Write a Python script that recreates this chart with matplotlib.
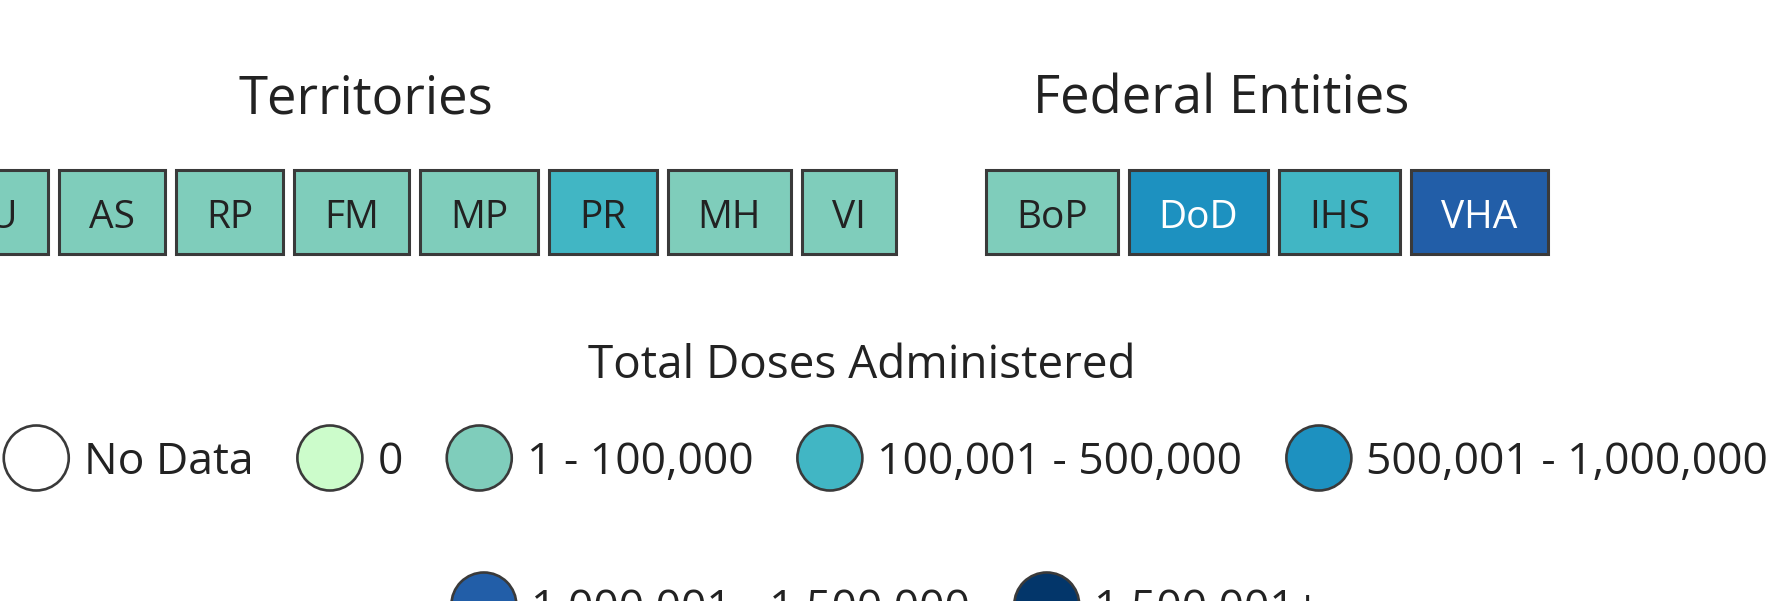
import matplotlib
matplotlib.use('Agg')
import matplotlib.pyplot as plt
from matplotlib.patches import Rectangle, Circle

plt.rcParams['font.family'] = ['Open Sans', 'DejaVu Sans']

# legend bins (total doses administered)
bin_labels = ['No Data', '0', '1 - 100,000', '100,001 - 500,000',
              '500,001 - 1,000,000', '1,000,001 - 1,500,000', '1,500,001+']
bin_colors = ['#ffffff', '#ccfccb', '#7fcdbb', '#41b6c4',
              '#1d91c0', '#225ea8', '#03366a']

# jurisdictions and the bin each one falls in
territories = ['GU', 'AS', 'RP', 'FM', 'MP', 'PR', 'MH', 'VI']
territory_bins = [2, 2, 2, 2, 2, 3, 2, 2]

federal = ['BoP', 'DoD', 'IHS', 'VHA']
federal_bins = [2, 4, 3, 5]

legend_rows = [[0, 1, 2, 3, 4], [5, 6]]

W, H = 1769, 601
TXT = '#222222'
EDGE = '#3a3a3a'

fig = plt.figure(figsize=(W / 100, H / 100), dpi=100)
ax = fig.add_axes([0, 0, 1, 1])
ax.set_xlim(0, W)
ax.set_ylim(H, 0)
ax.axis('off')
renderer = fig.canvas.get_renderer()


def text_width(s, size):
    t = ax.text(0, 0, s, fontsize=size)
    w = t.get_window_extent(renderer).width
    t.remove()
    return w


BOX_FS = 28
BOX_PAD = 30
BOX_GAP = 11
BOX_TOP, BOX_H = 170, 84


def draw_boxes(names, bins, x0, align='left'):
    widths = [text_width(n, BOX_FS) + 2 * BOX_PAD for n in names]
    total = sum(widths) + BOX_GAP * (len(names) - 1)
    x = x0 - total if align == 'right' else x0
    for n, b, w in zip(names, bins, widths):
        ax.add_patch(Rectangle((x, BOX_TOP), w, BOX_H, facecolor=bin_colors[b],
                               edgecolor=EDGE, lw=2.2))
        ax.text(x + w / 2, 228, n, ha='center', va='baseline', fontsize=BOX_FS,
                color='white' if b >= 4 else TXT)
        x += w + BOX_GAP


ax.text(366, 113, 'Territories', ha='center', va='baseline', fontsize=38, color=TXT)
ax.text(1221, 113, 'Federal Entities', ha='center', va='baseline', fontsize=38, color=TXT)
draw_boxes(territories, territory_bins, 896, align='right')
draw_boxes(federal, federal_bins, 986)

# legend
LEG_FS = 32
R = 32.5
LAB_GAP = 15
ITEM_GAP = 44
ax.text(862, 378, 'Total Doses Administered', ha='center', va='baseline',
        fontsize=33, color=TXT)

for row, cy in zip(legend_rows, [458, 605]):
    widths = [2 * R + LAB_GAP + text_width(bin_labels[i], LEG_FS) for i in row]
    total = sum(widths) + ITEM_GAP * (len(row) - 1)
    x = 886 - total / 2
    for i, w in zip(row, widths):
        ax.add_patch(Circle((x + R, cy), R, facecolor=bin_colors[i],
                            edgecolor=EDGE, lw=1.9))
        ax.text(x + 2 * R + LAB_GAP, cy + 16, bin_labels[i], ha='left',
                va='baseline', fontsize=LEG_FS, color=TXT)
        x += w + ITEM_GAP

fig.savefig('out.png', dpi=100, facecolor='white')
